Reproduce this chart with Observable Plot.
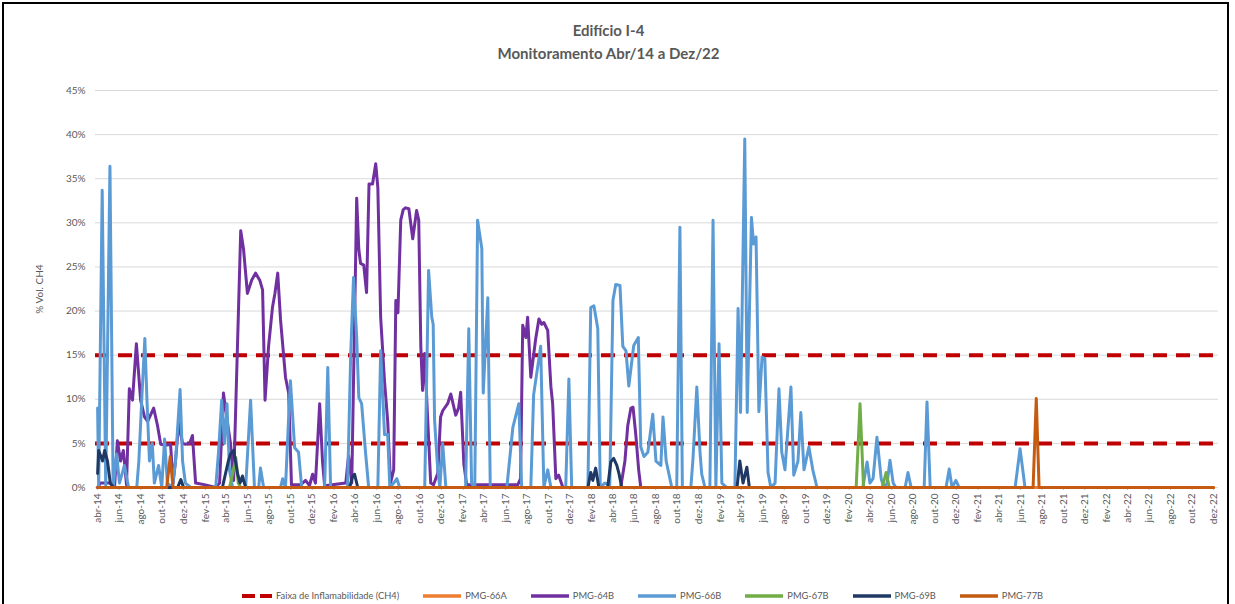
<!DOCTYPE html>
<html><head><meta charset="utf-8">
<script src="https://cdn.jsdelivr.net/npm/d3@7"></script>
<script src="https://cdn.jsdelivr.net/npm/@observablehq/plot@0.6"></script>
<style>
body{margin:0;background:#fff;}
#frame{position:relative;width:1235px;height:604px;overflow:hidden;font-family:Lato,"Noto Sans",sans-serif;background:#fff;}
#border{position:absolute;left:2px;top:2px;width:1227px;height:640px;border:2px solid #000;box-sizing:border-box;}
#title{position:absolute;left:0;width:1217px;top:19px;text-align:center;font-weight:bold;color:#595959;font-size:15px;line-height:23px;}
#chart{position:absolute;left:0;top:0;}
#legend{position:absolute;top:590px;left:242px;display:flex;align-items:center;gap:24px;font-size:9.3px;color:#595959;white-space:nowrap;}
#legend .it{display:flex;align-items:center;}
#legend svg{margin-right:4px;}
</style></head>
<body>
<div id="frame">
  <div id="border"></div>
  <div id="title">Edifício I-4<br>Monitoramento Abr/14 a Dez/22</div>
  <div id="chart"></div>
  <div id="legend"></div>
</div>
<script>
// ---- data (values in % Vol. CH4) ----
const monthNames = ["jan","fev","mar","abr","mai","jun","jul","ago","set","out","nov","dez"];
const yTicks = [0,5,10,15,20,25,30,35,40,45];
const faixa = [5, 15];
const seriesNames = ["PMG-66A","PMG-64B","PMG-66B","PMG-67B","PMG-69B","PMG-77B"];
const seriesColors = ["#ED7D31","#7030A0","#5B9BD5","#70AD47","#203864","#C55A11"];

const pmg66A = [["2014-04-01",0],["2022-12-01",0]];

const pmg64B = [
["2014-04-01",0],["2014-04-09",0.5],["2014-05-07",0.5],["2014-05-19",0],["2014-05-27",5.3],["2014-06-05",3],
["2014-06-13",4.2],["2014-06-22",0.3],["2014-06-30",11.2],["2014-07-09",9.9],["2014-07-20",16.3],["2014-08-01",9.9],
["2014-08-12",8],["2014-08-21",7.5],["2014-09-07",9],["2014-09-18",7],["2014-09-27",4.9],["2014-10-11",4.8],
["2014-10-25",4.9],["2014-11-01",0.5],["2014-11-08",3],["2014-11-17",7.3],["2014-11-28",5],["2014-12-06",4.9],
["2014-12-18",5],["2014-12-26",5.9],["2015-01-04",0.5],["2015-02-01",0.3],["2015-03-02",0],["2015-03-13",0.5],
["2015-03-24",10.7],["2015-04-02",8],["2015-04-13",5],["2015-04-22",0.8],["2015-05-12",29.1],["2015-05-20",27],
["2015-05-31",22],["2015-06-12",23.5],["2015-06-23",24.3],["2015-07-05",23.5],["2015-07-13",22.4],["2015-07-20",9.9],
["2015-07-30",16],["2015-08-10",20.4],["2015-08-17",22],["2015-08-25",24.3],["2015-09-02",19],["2015-09-16",12.5],
["2015-09-25",10.7],["2015-10-03",0.3],["2015-10-29",0.3],["2015-11-12",0.8],["2015-11-23",0.2],["2015-12-02",1.5],
["2015-12-10",0.5],["2015-12-22",9.5],["2015-12-30",3],["2016-01-05",0.2],["2016-03-05",0.5],["2016-03-13",3.6],
["2016-03-22",0.5],["2016-04-05",32.8],["2016-04-11",27],["2016-04-16",25.4],["2016-04-25",25.2],["2016-05-03",22.1],
["2016-05-10",34.4],["2016-05-20",34.4],["2016-05-29",36.7],["2016-06-04",34],["2016-06-12",19.3],["2016-06-23",12],
["2016-07-02",7.5],["2016-07-10",0.5],["2016-07-19",2],["2016-07-25",21.2],["2016-07-31",19.8],["2016-08-08",30.3],
["2016-08-15",31.5],["2016-08-22",31.7],["2016-08-31",31.6],["2016-09-11",28.2],["2016-09-22",31.4],["2016-09-28",30.3],
["2016-10-04",15.9],["2016-10-09",11],["2016-10-15",15.2],["2016-10-23",8.1],["2016-11-01",0.5],["2016-11-09",0.3],
["2016-11-21",1.6],["2016-11-29",8],["2016-12-05",8.7],["2016-12-19",9.5],["2016-12-28",10.6],["2017-01-11",8.2],
["2017-01-19",9],["2017-01-25",10.8],["2017-02-03",2.7],["2017-02-11",0.3],["2017-03-23",0.3],["2017-05-19",0.3],
["2017-07-06",0.3],["2017-07-14",1],["2017-07-20",18.4],["2017-07-29",17],["2017-08-03",19.3],["2017-08-12",12.5],
["2017-08-26",16.9],["2017-09-04",19.1],["2017-09-12",18.5],["2017-09-18",18.7],["2017-09-29",17.8],["2017-10-08",11.4],
["2017-10-13",9.5],["2017-10-22",1],["2017-10-30",1.4],["2017-11-11",0],["2018-04-24",0],["2018-05-06",3],
["2018-05-14",7],["2018-05-23",9],["2018-05-29",9.1],["2018-06-06",5.9],["2018-06-14",2],["2018-06-20",0]
];

const pmg66B = [
["2014-04-01",9.0],["2014-04-04",0],["2014-04-14",33.7],["2014-04-24",0],["2014-05-06",36.4],["2014-05-15",0],
["2014-05-25",3.8],["2014-06-02",0.5],["2014-06-16",2.5],["2014-06-28",0],["2014-07-21",0],["2014-07-27",3],
["2014-08-05",10.6],["2014-08-13",16.9],["2014-08-19",9.9],["2014-08-26",3],["2014-09-03",5],["2014-09-09",0.5],
["2014-09-21",2.5],["2014-09-30",0],["2014-10-08",5.5],["2014-10-16",0.5],["2014-10-30",0],["2014-11-08",3],
["2014-11-21",11.1],["2014-11-28",3],["2014-12-06",0.5],["2014-12-21",0],["2015-03-02",0],["2015-03-10",4],
["2015-03-19",9.9],["2015-03-27",5],["2015-04-03",9.5],["2015-04-10",2],["2015-04-19",0],["2015-05-26",0],
["2015-06-09",9.9],["2015-06-20",0],["2015-07-02",0],["2015-07-07",2.2],["2015-07-16",0],["2015-09-02",0],
["2015-09-08",1],["2015-09-16",0],["2015-09-25",8],["2015-09-30",12.1],["2015-10-12",4.5],["2015-10-23",4],
["2015-11-01",0],["2016-01-05",0],["2016-01-14",13.6],["2016-01-22",0],["2016-03-10",0],["2016-03-19",15],
["2016-03-27",23.8],["2016-04-05",17],["2016-04-11",10.2],["2016-04-19",9.5],["2016-04-30",4],["2016-05-09",0],
["2016-06-04",0],["2016-06-12",15.5],["2016-06-23",6],["2016-07-02",6],["2016-07-08",0],["2016-07-19",0.5],
["2016-07-28",1],["2016-08-05",0],["2016-10-15",0],["2016-10-26",24.6],["2016-11-04",19.3],["2016-11-08",18.5],
["2016-11-12",7.6],["2016-11-21",2],["2016-11-27",0],["2016-12-05",5],["2016-12-14",0],["2017-02-08",0],
["2017-02-17",18],["2017-02-25",0.5],["2017-03-06",0],["2017-03-14",30.3],["2017-03-26",27.1],["2017-03-30",10.7],
["2017-04-12",21.5],["2017-04-19",0],["2017-06-05",0],["2017-06-22",6.8],["2017-07-09",9.5],["2017-07-17",0],
["2017-08-12",0],["2017-08-20",10.5],["2017-09-09",16],["2017-09-18",0],["2017-09-29",2],["2017-10-08",0],
["2017-11-19",0],["2017-11-28",12.3],["2017-12-06",0],["2018-01-21",0],["2018-01-29",20.4],["2018-02-07",20.6],
["2018-02-18",18],["2018-02-25",0],["2018-03-10",0.5],["2018-03-24",0.3],["2018-04-02",21.2],["2018-04-10",23],
["2018-04-22",22.9],["2018-04-30",16],["2018-05-09",15.5],["2018-05-17",11.5],["2018-05-31",16.1],["2018-06-13",17],
["2018-06-20",4.6],["2018-06-29",3.5],["2018-07-10",4],["2018-07-24",8.3],["2018-08-02",3],["2018-08-16",2.5],
["2018-08-22",8],["2018-08-31",3],["2018-09-08",1.5],["2018-09-16",0],["2018-09-30",0],["2018-10-09",29.5],
["2018-10-16",0],["2018-11-09",0],["2018-11-15",3.2],["2018-11-26",11.4],["2018-12-05",4],["2018-12-10",1.5],
["2018-12-19",0],["2019-01-02",0],["2019-01-11",30.3],["2019-01-19",0],["2019-01-28",16.3],["2019-02-05",0.5],
["2019-02-19",0],["2019-03-14",0],["2019-03-23",20.3],["2019-03-30",8.5],["2019-04-11",39.5],["2019-04-18",8.5],
["2019-04-30",30.6],["2019-05-06",27.6],["2019-05-13",28.4],["2019-05-21",8.6],["2019-05-30",14.8],["2019-06-07",14.6],
["2019-06-16",1.7],["2019-06-24",0],["2019-07-06",0.5],["2019-07-17",11.2],["2019-07-25",4],["2019-08-03",2],
["2019-08-20",11.4],["2019-08-28",1.4],["2019-09-09",3],["2019-09-17",8.5],["2019-09-26",2],["2019-10-10",4.6],
["2019-10-21",2],["2019-11-02",0],["2020-03-11",0],["2020-03-23",2.9],["2020-03-31",0.5],["2020-04-09",1],
["2020-04-20",5.7],["2020-05-02",1],["2020-05-10",0],["2020-05-19",0.5],["2020-05-27",3.1],["2020-06-05",0.5],
["2020-06-13",0],["2020-07-09",0],["2020-07-17",1.7],["2020-07-26",0],["2020-09-01",0],["2020-09-09",9.7],
["2020-09-18",0],["2020-11-02",0],["2020-11-11",2.1],["2020-11-19",0],["2020-11-30",0.8],["2020-12-09",0],
["2021-05-17",0],["2021-05-31",4.4],["2021-06-14",0]
];

const pmg67B = [
["2015-04-10",0],["2015-04-19",1.5],["2015-04-28",3.4],["2015-05-05",0.5],["2015-05-12",0],
["2020-02-21",0],["2020-03-03",9.5],["2020-03-13",0],["2020-05-05",0],["2020-05-16",1.7],["2020-05-25",0]
];

const pmg69B = [
["2014-04-01",1.6],["2014-04-04",4.2],["2014-04-15",3],["2014-04-21",4.2],["2014-04-29",3],["2014-05-07",0.5],
["2014-05-16",0],["2014-11-14",0],["2014-11-23",0.9],["2014-12-01",0],["2015-03-21",0],["2015-03-30",1.6],
["2015-04-07",3],["2015-04-13",3.8],["2015-04-22",4.2],["2015-05-03",1.6],["2015-05-10",0.5],["2015-05-17",1.3],
["2015-05-26",0],["2016-03-16",0],["2016-03-24",1.2],["2016-03-30",1.5],["2016-04-08",0],["2018-01-21",0],
["2018-01-29",1.7],["2018-02-04",0.8],["2018-02-12",2.2],["2018-02-21",0],["2018-03-18",0],["2018-03-27",2.9],
["2018-04-04",3.3],["2018-04-13",2.5],["2018-04-19",1.6],["2018-04-27",0],["2019-03-20",0],["2019-03-28",3],
["2019-04-06",0.5],["2019-04-17",2.3],["2019-04-24",0]
];

const pmg77B = [
["2014-04-01",0],["2014-10-14",0],["2014-10-24",3.5],["2014-11-01",0],
["2021-07-07",0],["2021-07-16",10.1],["2021-07-24",0],["2022-12-01",0]
];

// ---- build ----
const seriesData = [pmg66A, pmg64B, pmg66B, pmg67B, pmg69B, pmg77B];
const rows = [];
seriesData.forEach((arr, i) => arr.forEach(([d, v]) => rows.push({serie: seriesNames[i], date: new Date(d + "T00:00:00Z"), value: v})));

const xTicks = d3.utcMonths(new Date(Date.UTC(2014,3,1)), new Date(Date.UTC(2022,11,2)), 2);
const fmtMonth = d => monthNames[d.getUTCMonth()] + "-" + String(d.getUTCFullYear()).slice(2);

const chart = Plot.plot({
  width: 1235,
  height: 545,
  marginTop: 90,
  marginBottom: 58,
  marginLeft: 95,
  marginRight: 17,
  style: {fontFamily: "Lato, 'Noto Sans', sans-serif", fontSize: "10px", color: "#595959", background: "transparent"},
  x: {type: "utc", domain: [new Date(Date.UTC(2014,2,26)), new Date(Date.UTC(2022,11,15))]},
  y: {domain: [0, 45]},
  color: {domain: seriesNames, range: seriesColors},
  marks: [
    Plot.gridY(yTicks, {stroke: "#D9D9D9", strokeOpacity: 1, strokeWidth: 1}),
    Plot.axisY({ticks: yTicks, tickFormat: d => d + "%", tickSize: 0, tickPadding: 10, label: "% Vol. CH4", labelAnchor: "center", labelArrow: "none", labelOffset: 60, fontSize: 10}),
    Plot.axisX({ticks: xTicks, tickFormat: fmtMonth, tickRotate: -90, tickSize: 3, tickPadding: 3, stroke: "#BFBFBF", label: null}),
    Plot.ruleY(faixa, {stroke: "#C00000", strokeWidth: 4, strokeDasharray: "14,9"}),
    Plot.line(rows, {x: "date", y: "value", z: "serie", stroke: "serie", strokeWidth: 3, strokeLinejoin: "round"})
  ]
});
document.getElementById("chart").appendChild(chart);

// ---- legend ----
const legend = document.getElementById("legend");
const items = [{name: "Faixa de Inflamabilidade (CH4)", color: "#C00000", dash: true}]
  .concat(seriesNames.map((n, i) => ({name: n, color: seriesColors[i], dash: false})));
items.forEach(it => {
  const div = document.createElement("div");
  div.className = "it";
  const w = it.dash ? 30 : 38;
  div.innerHTML = `<svg width="${w}" height="8"><line x1="0" x2="${w}" y1="4" y2="4" stroke="${it.color}" stroke-width="${it.dash ? 4 : 3.5}" ${it.dash ? 'stroke-dasharray="13,5"' : ''}/></svg><span>${it.name}</span>`;
  legend.appendChild(div);
});
</script>
</body></html>
